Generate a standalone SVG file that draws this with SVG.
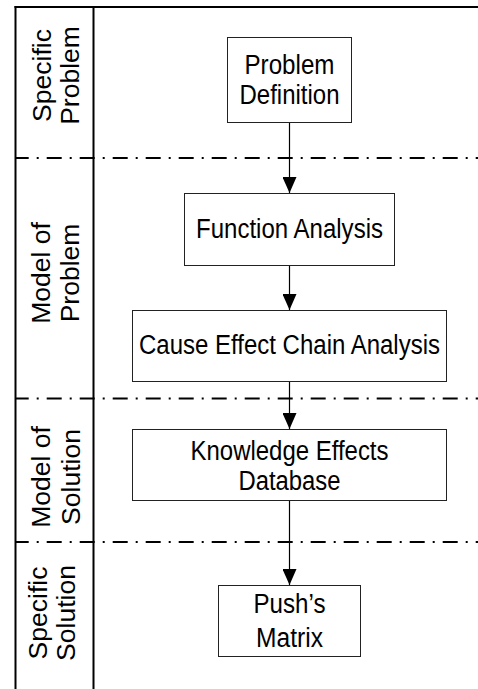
<svg xmlns="http://www.w3.org/2000/svg" width="478" height="689" viewBox="0 0 478 689">
<defs>
<marker id="arr" markerUnits="userSpaceOnUse" markerWidth="16" markerHeight="14" refX="16" refY="7" orient="auto" viewBox="0 0 16 14">
<path d="M0,0 L16,7 L0,14 Z" fill="#000"/>
</marker>
<style>
.frame{stroke:#000;stroke-width:2;fill:none}
.sep{stroke:#000;stroke-width:1.8;fill:none;stroke-dasharray:15 8 2 8;stroke-dashoffset:1.3}
.box{fill:#fff;stroke:#222;stroke-width:1}
.lbl{font-family:"Liberation Sans",Arial,sans-serif;font-size:27px;fill:#000;text-anchor:middle}
.lane{font-family:"Liberation Sans",Arial,sans-serif;font-size:26.5px;fill:#000;text-anchor:middle}
.con{stroke:#000;stroke-width:1.2;fill:none}
</style>
</defs>
<rect width="478" height="689" fill="#fff"/>
<g id="frame">
<line class="frame" x1="14.5" y1="7" x2="478" y2="7"/>
<line class="frame" x1="15.5" y1="6" x2="15.5" y2="689"/>
<line class="frame" x1="93.5" y1="6" x2="93.5" y2="689"/>
<line class="sep" x1="15" y1="158" x2="478" y2="158"/>
<line class="sep" x1="15" y1="398.5" x2="478" y2="398.5"/>
<line class="sep" x1="15" y1="542" x2="478" y2="542"/>
</g>
<g id="lanes">
<g id="lane-specific-problem">
<text class="lane" transform="translate(51,75.5) rotate(-90)">Specific</text>
<text class="lane" transform="translate(79,75.5) rotate(-90)">Problem</text>
</g>
<g id="lane-model-of-problem">
<text class="lane" transform="translate(50,273) rotate(-90)">Model of</text>
<text class="lane" transform="translate(79,273) rotate(-90)">Problem</text>
</g>
<g id="lane-model-of-solution">
<text class="lane" transform="translate(50,477) rotate(-90)">Model of</text>
<text class="lane" transform="translate(80,477) rotate(-90)">Solution</text>
</g>
<g id="lane-specific-solution">
<text class="lane" transform="translate(46.5,613) rotate(-90)">Specific</text>
<text class="lane" transform="translate(75,613) rotate(-90)">Solution</text>
</g>
</g>
<g id="connectors">
<line class="con" x1="289.5" y1="123" x2="289.5" y2="193" marker-end="url(#arr)"/>
<line class="con" x1="289.5" y1="266" x2="289.5" y2="310" marker-end="url(#arr)"/>
<line class="con" x1="289.5" y1="382" x2="289.5" y2="429" marker-end="url(#arr)"/>
<line class="con" x1="289.5" y1="501" x2="289.5" y2="585" marker-end="url(#arr)"/>
</g>
<g id="node-problem-definition">
<rect class="box" x="227.5" y="37.5" width="124" height="85"/>
<text class="lbl" x="289.5" y="74" textLength="90" lengthAdjust="spacingAndGlyphs">Problem</text>
<text class="lbl" x="289.5" y="104" textLength="100" lengthAdjust="spacingAndGlyphs">Definition</text>
</g>
<g id="node-function-analysis">
<rect class="box" x="184.5" y="193.5" width="210" height="72"/>
<text class="lbl" x="289.5" y="238" textLength="187" lengthAdjust="spacingAndGlyphs">Function Analysis</text>
</g>
<g id="node-cause-effect">
<rect class="box" x="132.5" y="310.5" width="314" height="71"/>
<text class="lbl" x="289.5" y="354" textLength="301" lengthAdjust="spacingAndGlyphs">Cause Effect Chain Analysis</text>
</g>
<g id="node-knowledge-effects">
<rect class="box" x="132.5" y="429.5" width="314" height="71"/>
<text class="lbl" x="289.5" y="459.5" textLength="198" lengthAdjust="spacingAndGlyphs">Knowledge Effects</text>
<text class="lbl" x="289.5" y="489.5" textLength="102" lengthAdjust="spacingAndGlyphs">Database</text>
</g>
<g id="node-push-matrix">
<rect class="box" x="218.5" y="585.5" width="142" height="71"/>
<text class="lbl" x="289.5" y="613" textLength="72" lengthAdjust="spacingAndGlyphs">Push’s</text>
<text class="lbl" x="289.5" y="646.5" textLength="67" lengthAdjust="spacingAndGlyphs">Matrix</text>
</g>
</svg>
